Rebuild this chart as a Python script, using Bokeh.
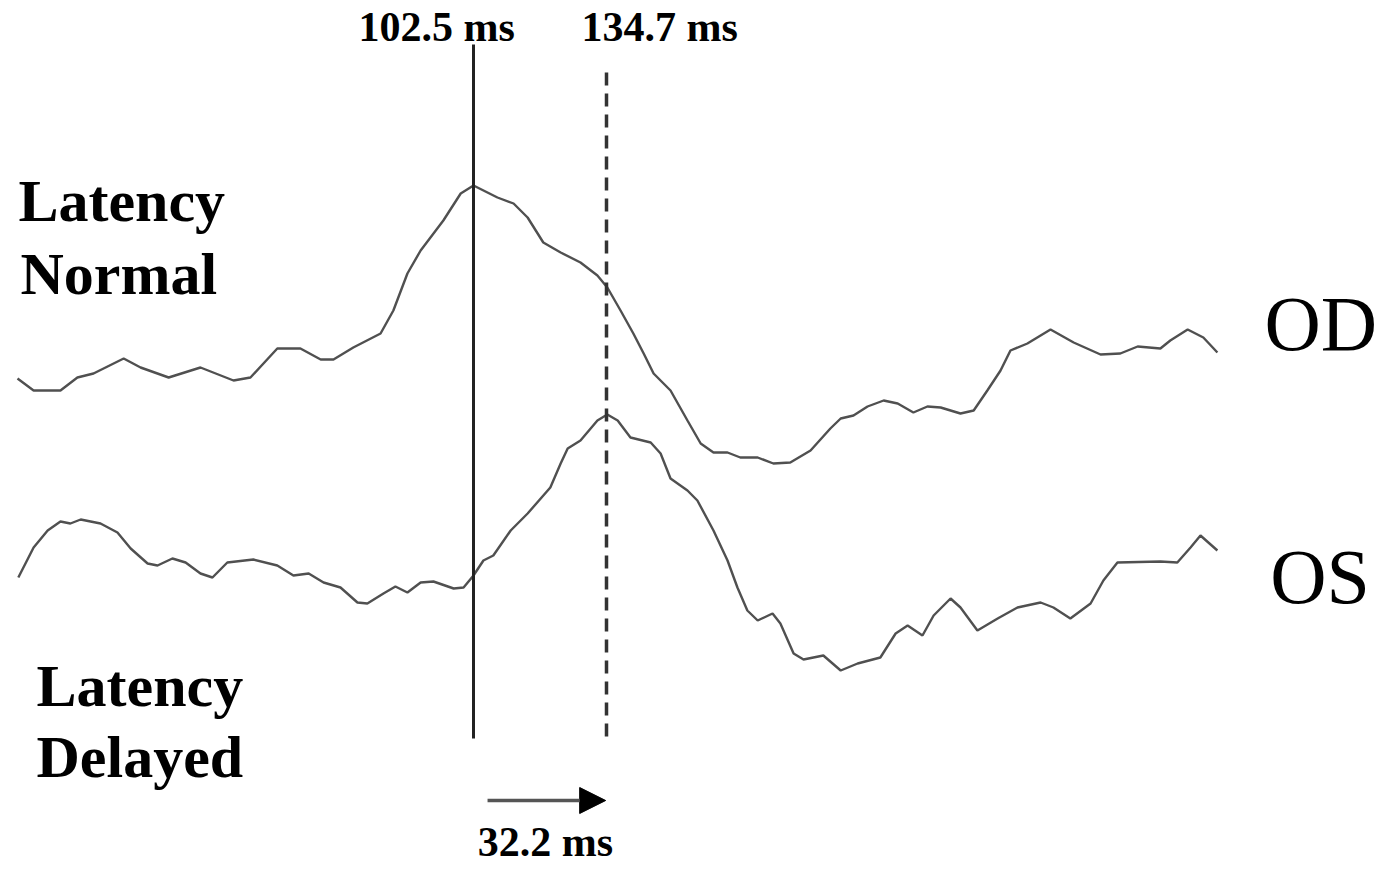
import numpy as np
from bokeh.plotting import figure
from bokeh.models import Range1d, Arrow, NormalHead
from bokeh.core.properties import value
from bokeh.embed import file_html
from bokeh.resources import INLINE

# ---- data (time in ms, amplitude in arbitrary units) ----
od_t = [-7.9, -4.0, 2.5, 6.6, 10.5, 17.8, 21.9, 28.7, 36.4, 44.4, 48.5, 55.0, 60.6, 65.5,
        68.6, 73.4, 80.0, 83.1, 86.5, 89.7, 95.2, 99.4, 102.5, 108.3, 112.2, 115.6, 119.4,
        123.6, 128.4, 132.5, 134.9, 138.1, 141.2, 143.7, 146.1, 150.2, 154.3, 157.5, 160.6,
        164.0, 167.1, 171.3, 175.1, 179.2, 184.1, 188.9, 191.4, 194.5, 197.9, 201.8, 205.2,
        209.0, 212.4, 215.6, 220.4, 223.6, 226.9, 230.1, 232.5, 236.6, 242.2, 247.8, 254.3,
        259.1, 263.3, 268.8, 271.2, 275.4, 279.2, 282.6]
od_amp = [1.2, 0.0, 0.0, 1.3, 1.7, 3.2, 2.3, 1.3, 2.3, 1.0, 1.3, 4.2, 4.2, 3.1,
          3.1, 4.3, 5.7, 8.0, 11.7, 14.0, 17.0, 19.7, 20.5, 19.3, 18.7, 17.3, 14.8,
          13.8, 12.8, 11.5, 10.3, 8.0, 5.7, 3.7, 1.7, 0.0, -3.0, -5.3, -6.2,
          -6.2, -6.7, -6.7, -7.3, -7.2, -6.0, -3.8, -2.8, -2.5, -1.6, -1.0, -1.3,
          -2.2, -1.6, -1.7, -2.3, -2.0, 0.0, 2.0, 4.0, 4.7, 6.1, 4.8, 3.6,
          3.7, 4.4, 4.2, 5.0, 6.1, 5.3, 3.8]

os_t = [-7.7, -4.0, -0.6, 2.5, 4.9, 7.4, 12.2, 16.3, 19.5, 23.6, 26.0, 29.6, 32.8, 36.4,
        39.3, 42.9, 49.2, 55.0, 58.9, 62.6, 66.2, 70.3, 74.4, 76.8, 80.7, 83.6, 86.5, 89.7,
        92.8, 97.7, 100.1, 102.5, 104.9, 107.3, 111.5, 115.6, 121.1, 123.6, 125.3, 128.4,
        132.5, 134.9, 137.4, 140.5, 145.4, 147.8, 150.2, 154.3, 156.7, 160.6, 164.0, 166.4,
        168.8, 171.3, 174.9, 176.8, 180.0, 182.4, 187.2, 191.4, 195.5, 201.0, 204.7, 207.6,
        211.2, 213.9, 218.0, 220.4, 224.5, 229.4, 234.2, 239.8, 242.9, 247.0, 251.9, 255.0,
        258.4, 268.8, 272.9, 276.1, 278.5, 282.6]
os_amp = [2.3, 5.3, 7.0, 7.9, 7.7, 8.1, 7.7, 6.8, 5.2, 3.7, 3.5, 4.2, 3.8, 2.7,
          2.3, 3.8, 4.1, 3.5, 2.5, 2.7, 1.8, 1.3, -0.2, -0.3, 0.7, 1.4, 0.8, 1.8,
          1.9, 1.2, 1.3, 2.5, 4.0, 4.5, 7.0, 8.7, 11.3, 13.7, 15.2, 16.0,
          18.0, 18.6, 18.0, 16.3, 15.8, 14.7, 12.2, 11.0, 10.0, 7.0, 4.0, 1.3,
          -1.0, -2.0, -1.3, -2.3, -5.3, -5.9, -5.5, -7.0, -6.3, -5.7, -3.3, -2.5,
          -3.5, -1.5, 0.2, -0.7, -3.0, -1.8, -0.7, -0.2, -0.7, -1.8, -0.3, 2.0,
          3.8, 3.9, 3.8, 5.3, 6.5, 5.0]

latency_normal = 102.5
latency_delayed = 134.7
delay = round(latency_delayed - latency_normal, 1)

# vertical stacking of the two traces
OD_BASE = 48.6
OS_BASE = 27.6

FONT = "Liberation Serif"

p = figure(width=1378, height=868, output_backend="svg", toolbar_location=None,
           x_range=Range1d(-12.016, 321.605), y_range=Range1d(0.8, 87.6),
           x_axis_location=None, y_axis_location=None, min_border=0)
p.outline_line_color = None
p.xgrid.visible = False
p.ygrid.visible = False
p.background_fill_color = "white"
p.border_fill_color = "white"

trace_color = "#505050"
p.line(od_t, np.array(od_amp) + OD_BASE, line_color=trace_color, line_width=2.4)
p.line(os_t, np.array(os_amp) + OS_BASE, line_color=trace_color, line_width=2.4)

# latency markers
p.segment(x0=[latency_normal], y0=[83.2], x1=[latency_normal], y1=[13.8],
          line_color="#222222", line_width=3)
p.segment(x0=[latency_delayed], y0=[80.4], x1=[latency_delayed], y1=[13.6],
          line_color="#333333", line_width=3.5, line_dash="13 8")

# delay arrow
p.add_layout(Arrow(end=NormalHead(size=26, fill_color="black", line_color="black", line_width=1),
                   x_start=latency_normal + 3.4, y_start=7.6,
                   x_end=latency_delayed - 0.2, y_end=7.6,
                   line_color="#555555", line_width=3.5))

bold = dict(text_font=value(FONT), text_font_style="bold", text_color="black",
            text_baseline="alphabetic")

p.text(x=[93.6], y=[85.0], text=[f"{latency_normal} ms"], text_align="center",
       text_font_size="42px", **bold)
p.text(x=[147.6], y=[85.0], text=[f"{latency_delayed} ms"], text_align="center",
       text_font_size="42px", **bold)
p.text(x=[119.9], y=[3.5], text=[f"{delay} ms"], text_align="center",
       text_font_size="42px", **bold)

p.text(x=[-7.66, -7.17], y=[67.6, 60.3], text=["Latency", "Normal"], text_align="left",
       text_font_size="60px", **bold)
p.text(x=[-3.3, -3.3], y=[19.1, 12.0], text=["Latency", "Delayed"], text_align="left",
       text_font_size="60px", **bold)

p.text(x=[294.0, 295.4], y=[55.3, 30.0], text=["OD", "OS"], text_align="left",
       text_font=value(FONT), text_font_size="78px", text_color="black",
       text_baseline="alphabetic")

open("out.html", "w").write(file_html(p, INLINE))
